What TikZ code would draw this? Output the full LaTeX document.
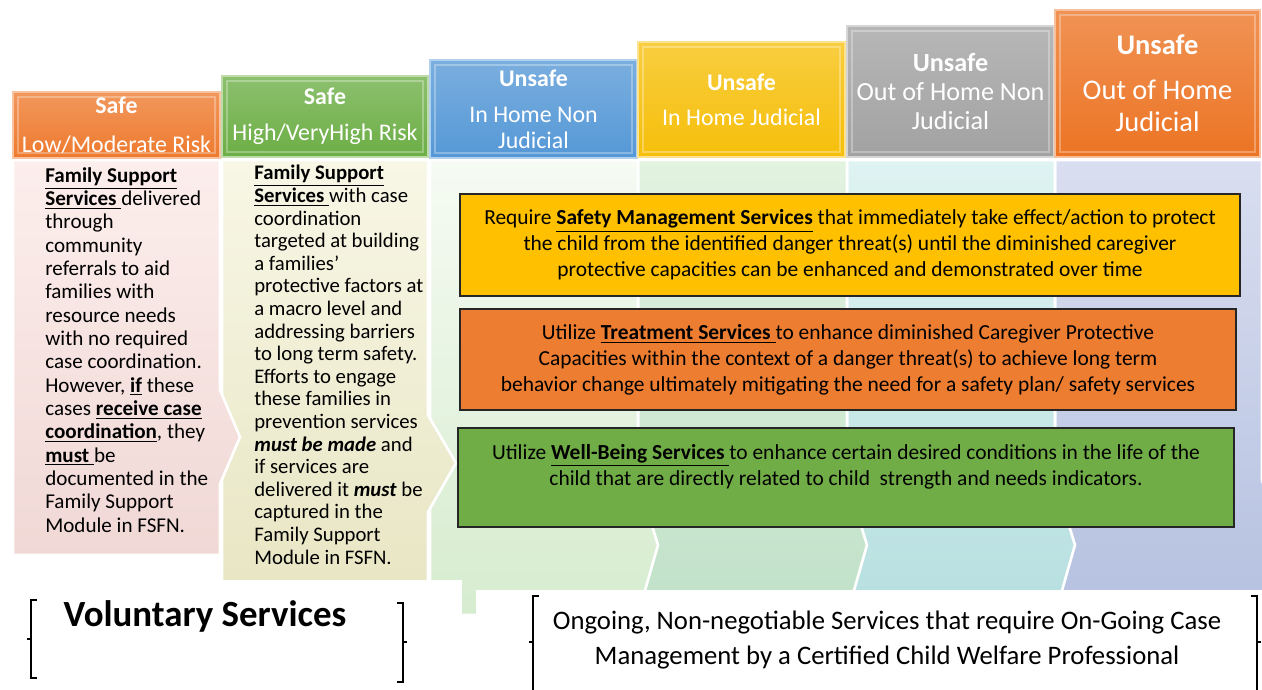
\documentclass[tikz,border=0pt]{standalone}
\usepackage{fontspec}
\setmainfont{Carlito}
\usepackage{xcolor}
\usepackage{tikz}

\definecolor{hdrOrange}{HTML}{EE7A2E}
\definecolor{hdrGreen}{HTML}{6CAE45}
\definecolor{hdrBlue}{HTML}{5598D6}
\definecolor{hdrGold}{HTML}{F6BF0A}
\definecolor{hdrGray}{HTML}{A2A2A2}
\definecolor{hdrRust}{HTML}{EC7424}
\definecolor{pinkTop}{HTML}{FCEEEC}
\definecolor{pinkBot}{HTML}{F0D8D5}
\definecolor{beigeTop}{HTML}{F8F7E6}
\definecolor{beigeBot}{HTML}{E8E6C4}
\definecolor{mintTop}{HTML}{F6FBF3}
\definecolor{mintBot}{HTML}{D6ECCF}
\definecolor{greenTop}{HTML}{E2F3E0}
\definecolor{greenBot}{HTML}{C1E1C9}
\definecolor{aquaTop}{HTML}{DEF3F2}
\definecolor{aquaBot}{HTML}{B7DFE0}
\definecolor{lilacTop}{HTML}{D9DEF0}
\definecolor{lilacBot}{HTML}{B5C1E0}
\definecolor{boxGold}{HTML}{FFC000}
\definecolor{boxOrange}{HTML}{ED7D31}
\definecolor{boxGreen}{HTML}{70AD47}

\newdimen\pxu \pxu=0.02cm

\begin{document}
\begin{tikzpicture}[x=0.02cm, y=-0.02cm,
  hdr/.style={text=white, align=center, inner sep=0pt, draw=white!55!#1, line width=0.6pt,
    top color=white!22!#1, bottom color=#1, font=\fontsize{13.6}{14.7}\selectfont,
    path picture={\draw[white, opacity=.3, line width=1.2pt]
      ([shift={(3pt,-3pt)}]path picture bounding box.north west) rectangle
      ([shift={(-3pt,3pt)}]path picture bounding box.south east);}},
  body/.style={draw=white, line width=1.5pt},
  bodytxt/.style={align=left, inner sep=0pt, anchor=north west},
  svcbox/.style={draw=black!85, line width=0.8pt, align=center, inner sep=0pt,
    font=\fontsize{12.2}{14.7}\selectfont},
  brk/.style={line width=0.8pt, black}]
\useasboundingbox (0,0) rectangle (1262,690);

% column bodies, right to left so every tip lies on its neighbour
\foreach \xa/\xb/\ct/\cb in {1055/1262/lilacTop/lilacBot, 847/1055/aquaTop/aquaBot,
    638/847/greenTop/greenBot, 430/638/mintTop/mintBot}
  \shade[body, top color=\ct, bottom color=\cb] (\xa,160) -- (\xb,160) -- (\xb,480)
    -- (\xb+20,545) -- (\xb,615) -- (\xa,615) -- cycle;
\shade[body, top color=beigeTop, bottom color=beigeBot] (222,160) -- (428,160) -- (428,415)
  -- (456,463) -- (428,512) -- (428,582) -- (222,582) -- cycle;
\shade[body, top color=pinkTop, bottom color=pinkBot] (13,160) -- (220,160) -- (220,390)
  -- (240,437) -- (220,484) -- (220,555) -- (13,555) -- cycle;

\fill[white] (0,580) rectangle (462,690);
\fill[white] (476,590) rectangle (1262,690);

% headers
\node[hdr=hdrOrange, minimum width=207\pxu, minimum height=66\pxu] (low) at (116.5,125)
  {\textbf{Safe}\\[7.4pt]Low/Moderate Risk};
\node[hdr=hdrGreen, minimum width=206\pxu, minimum height=81\pxu] (high) at (325,116.5)
  {\textbf{Safe}\\[5.7pt]High/VeryHigh Risk};
\node[hdr=hdrBlue, minimum width=207\pxu, minimum height=98\pxu] (inh) at (533.5,109)
  {\textbf{Unsafe}\\[5.7pt]In Home Non\\Judicial};
\node[hdr=hdrGold, minimum width=207\pxu, minimum height=115\pxu] (inhj) at (741.5,99.5)
  {\textbf{Unsafe}\\[5.1pt]In Home Judicial};
\node[hdr=hdrGray, minimum width=207\pxu, minimum height=131\pxu,
  font=\fontsize{14.9}{16.7}\selectfont] (ooh) at (950.5,91.5)
  {\textbf{Unsafe}\\Out of Home Non\\Judicial};
\node[hdr=hdrRust, minimum width=205\pxu, minimum height=147\pxu,
  font=\fontsize{16.2}{18.1}\selectfont] (oohj) at (1157.5,83.5)
  {\textbf{Unsafe}\\[7.4pt]Out of Home\\Judicial};

% safe column texts
\node[bodytxt, font=\fontsize{12}{13.28}\selectfont] (lowtxt) at (45,167)
  {\underline{\textbf{Family Support}}\\
   \underline{\textbf{Services }}delivered\\
   through\\
   community\\
   referrals to aid\\
   families with\\
   resource needs\\
   with no required\\
   case coordination.\\
   However, \underline{\textbf{if}} these\\
   cases \underline{\textbf{receive case}}\\
   \underline{\textbf{coordination}}, they\\
   \underline{\textbf{must }}be\\
   documented in the\\
   Family Support\\
   Module in FSFN.};
\node[bodytxt, font=\fontsize{11.8}{12.86}\selectfont] (hightxt) at (254,165)
  {\underline{\textbf{Family Support}}\\
   \underline{\textbf{Services }}with case\\
   coordination\\
   targeted at building\\
   a families’\\
   protective factors at\\
   a macro level and\\
   addressing barriers\\
   to long term safety.\\
   Efforts to engage\\
   these families in\\
   prevention services\\
   \textbf{\textit{must be made}} and\\
   if services are\\
   delivered it \textbf{\textit{must}} be\\
   captured in the\\
   Family Support\\
   Module in FSFN.};

% unsafe services
\node[svcbox, fill=boxGold, minimum width=780\pxu, minimum height=102\pxu] (safety) at (850,245)
  {Require \underline{\textbf{Safety Management Services}} that immediately take effect/action to protect\\
   the child from the identified danger threat(s) until the diminished caregiver\\
   protective capacities can be enhanced and demonstrated over time};
\node[svcbox, fill=boxOrange, minimum width=776\pxu, minimum height=101\pxu] (treat) at (848,359.5)
  {Utilize \underline{\textbf{Treatment Services }}to enhance diminished Caregiver Protective\\
   Capacities within the context of a danger threat(s) to achieve long term\\
   behavior change ultimately mitigating the need for a safety plan/ safety services};
\node[svcbox, fill=boxGreen, minimum width=776\pxu, minimum height=99\pxu] (well) at (846,477.5)
  {Utilize \underline{\textbf{Well-Being Services }}to enhance certain desired conditions in the life of the\\
   child that are directly related to child\ \ strength and needs indicators.\\ \mbox{}};

% bottom labels
\node[font=\fontsize{21}{24}\selectfont\bfseries] (vol) at (205,616) {Voluntary Services};
\node[align=center, font=\fontsize{15.2}{20.4}\selectfont] (ongoing) at (887,640)
  {Ongoing, Non-negotiable Services that require On-Going Case\\
   Management by a Certified Child Welfare Professional};
\draw[brk] (37,600) -| (31,639) -- (27,639) (31,639) |- (37,678);
\draw[brk] (397,603) -| (403,642) -- (407,642) (403,642) |- (397,682);
\draw[brk] (539,596) -| (533,642) -- (529,642) (533,642) |- (539,692);
\draw[brk] (1251,596) -| (1257,642) -- (1261,642) (1257,642) |- (1251,692);
\end{tikzpicture}
\end{document}
